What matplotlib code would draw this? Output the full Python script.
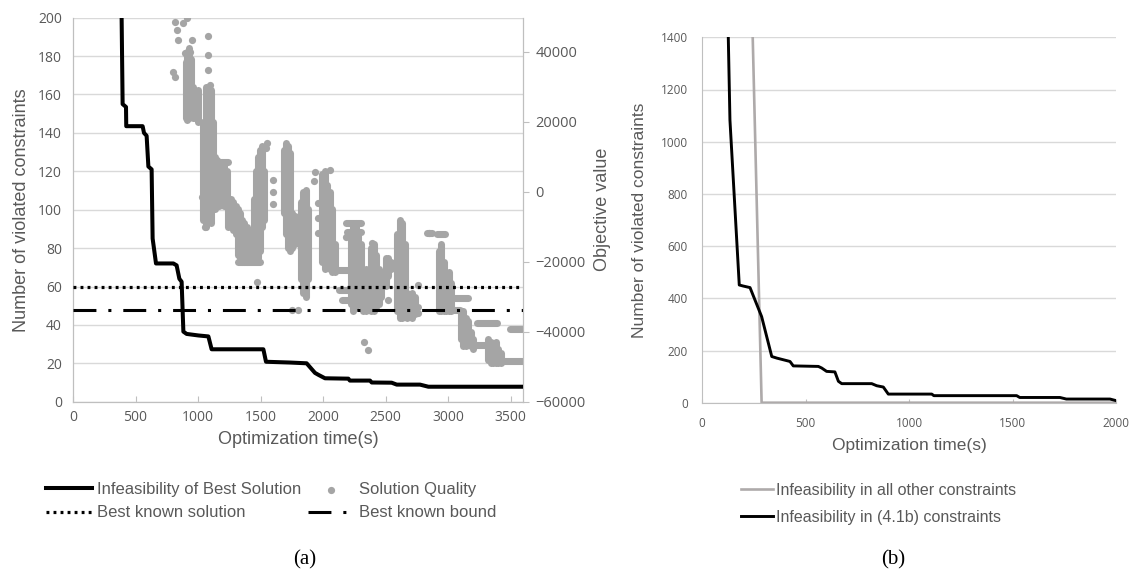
import matplotlib
matplotlib.use("Agg")
import matplotlib.pyplot as plt
from matplotlib.collections import LineCollection

# ============================================================
# data
# ============================================================
# (a) infeasibility of the best solution (left axis)
best_t = [389, 397, 424, 426, 557, 568, 589, 603, 629, 637, 664, 803, 829, 851, 869,
          883, 909, 1003, 1083, 1109, 1523, 1544, 1736, 1869, 1936, 1963, 2016, 2203,
          2215, 2376, 2390, 2549, 2590, 2776, 2843, 3600]
best_v = [200, 155, 153.5, 143.5, 143.5, 140, 138.5, 122.5, 121, 85, 72, 72, 71, 64, 62.5,
          36.5, 35.3, 34.5, 34, 27.3, 27.3, 20.8, 20.4, 20, 15, 14, 12.2, 12,
          11, 11, 10, 9.9, 8.9, 8.9, 7.8, 7.8]

# (a) objective value reference lines (right axis)
best_known_solution = -27100
best_known_bound = -33800

# (a) solution quality: isolated points
sq_t = [816, 909, 883, 829, 843, 949, 1083, 896, 936, 1083, 1083, 803, 816, 1096, 1029,
        1056, 1083, 1549, 1540, 1469, 1600, 1600, 1603, 1749, 1803, 1936, 1930, 1963, 1963,
        1963, 2056, 2187, 2395, 2523, 2330, 2360, 2763, 2763, 2850]
sq_v = [48600, 49500, 48100, 46200, 43300, 43300, 44500, 39500, 40000, 39000, 34800, 34300,
        32900, 30500, -1400, -10000, -6000, 14000, 12500, -25700, 3300, 0, -3500, -33800,
        -33800, 5700, 3000, -3200, -7500, -11900, 6200, -12900, -14700, -31000, -42900,
        -45200, -26700, -34700, -11700]

# (a) solution quality: dense runs of points (start time, end time, start value, end value)
run_t0 = [900, 915, 930, 945, 960, 975, 990, 1000, 1040, 1060, 1080, 1100, 1120, 1135, 1150,
          1170, 1190, 1210, 1228, 1240, 1260, 1280, 1300, 1320, 1335, 1350, 1370, 1390, 1410,
          1450, 1465, 1480, 1495, 1510, 1525, 1690, 1705, 1720, 1735, 1755, 1775, 1795, 1820,
          1840, 1860, 1880, 1995, 2015, 2035, 2055, 2075, 2095, 2220, 2240, 2260, 2280, 2300,
          2320, 2340, 2360, 2385, 2405, 2425, 2445, 2465, 2500, 2520, 2540, 2595, 2615, 2635,
          2655, 2675, 2695, 2715, 2735, 2925, 2945, 2965, 2985, 3005, 3025, 3100, 3120, 3140,
          3160, 3180, 3200, 3320, 3340, 3360, 3380, 3400, 3420,
          1123, 1323, 2120, 2180, 2190, 2130, 2150, 2620, 2830, 2910, 2976, 3056, 3202, 3229,
          3429, 3496]
run_t1 = [900, 915, 930, 945, 960, 975, 990, 1000, 1040, 1060, 1080, 1100, 1120, 1135, 1150,
          1170, 1190, 1210, 1228, 1240, 1260, 1280, 1300, 1320, 1335, 1350, 1370, 1390, 1410,
          1450, 1465, 1480, 1495, 1510, 1525, 1690, 1705, 1720, 1735, 1755, 1775, 1795, 1820,
          1840, 1860, 1880, 1995, 2015, 2035, 2055, 2075, 2095, 2220, 2240, 2260, 2280, 2300,
          2320, 2340, 2360, 2385, 2405, 2425, 2445, 2465, 2500, 2520, 2540, 2595, 2615, 2635,
          2655, 2675, 2695, 2715, 2735, 2925, 2945, 2965, 2985, 3005, 3025, 3100, 3120, 3140,
          3160, 3180, 3200, 3320, 3340, 3360, 3380, 3400, 3420,
          1240, 1496, 2230, 2300, 2300, 2390, 2390, 2760, 2870, 2976, 3096, 3162, 3309, 3389,
          3589, 3589]
run_v0 = [21000, 20500, 21000, 22000, 21000, 21000, 21000, 20000, -8000, -10000, -8000, -9000,
          -5000, -5000, -4000, -4000, -3000, -4000, -4000, -10000, -10000, -11000, -12000,
          -18000, -19000, -20000, -20000, -20000, -19000, -19000, -18000, -19000, -17000,
          -10000, -8000, -6000, -12000, -16000, -17000, -16000, -15000, -14000, -25000, -29000,
          -30000, -25000, -20000, -22000, -20000, -22000, -23000, -23000, -32000, -34000,
          -33000, -32000, -30000, -34000, -34000, -33000, -34000, -34000, -33000, -32000,
          -30000, -27000, -24000, -22000, -34000, -36000, -36000, -35000, -36000, -35000,
          -36000, -35000, -34000, -34000, -34000, -34000, -34000, -34000, -42000, -44000,
          -44000, -43000, -44000, -45000, -48000, -49000, -49000, -49000, -49000, -49000,
          8500, -20000, -22500, -9000, -11500, -28000, -31000, -33000, -11700, -12000, -33800,
          -30500, -43800, -37600, -48300, -39300]
run_v1 = [37000, 40000, 41000, 38000, 30000, 27000, 26000, 29000, 20000, 30000, 28000, 29000,
          20000, 10000, 9000, 8500, 8500, 8000, 6000, -3000, -2000, -3000, -4000, -5000,
          -6000, -8000, -9000, -10000, -12000, -2000, 6000, 10000, 12000, 13000, 6000, 12000,
          14000, 13000, 11000, -6000, -7000, -8000, -3000, 0, 500, -5000, 5000, 6000, 2000, 0,
          -5000, -15000, -12000, -10000, -9000, -12000, -15000, -25000, -22000, -24000,
          -16000, -15000, -18000, -22000, -25000, -19000, -19000, -20000, -12000, -8000,
          -9000, -15000, -29000, -30000, -29000, -30000, -17000, -15000, -20000, -26000,
          -23000, -26000, -34000, -34000, -36000, -37000, -40000, -42000, -42000, -43000,
          -44000, -43000, -45000, -46000,
          8500, -20000, -22500, -9000, -11500, -28000, -31000, -33000, -11700, -12000, -33800,
          -30500, -43800, -37600, -48300, -39300]

# (b) infeasibility split by constraint group
b_t_41b = [127, 135, 180, 199, 232, 288, 337, 361, 425, 441, 562, 578, 602, 642, 659, 675,
           820, 844, 876, 900, 1110, 1120, 1520, 1535, 1729, 1760, 1971, 2000]
b_v_41b = [1400, 1083, 451, 447, 441, 330, 177, 171, 158, 141, 139, 133, 120, 118, 82, 73,
           73, 65, 60, 33, 33, 27, 27, 20, 20, 14, 14, 8]
b_t_other = [245, 288, 2000]
b_v_other = [1400, 0, 0]

# ============================================================
TXT = "#595959"
GRID = "#D9D9D9"
SPINE = "#BFBFBF"
DOT = "#A5A5A5"
W, H = 1137, 579

plt.rcParams["font.family"] = ["Liberation Sans", "DejaVu Sans"]

fig = plt.figure(figsize=(W / 100, H / 100), dpi=100)


def box(l, t, r, b):
    return [l / W, 1 - b / H, (r - l) / W, (b - t) / H]


# ---------------- panel (a) ----------------
ax = fig.add_axes(box(73, 17.7, 523, 401.7))
ax2 = ax.twinx()

ax.set_xlim(0, 3600)
ax.set_ylim(0, 200)
ax.set_xticks(range(0, 3600, 500))
ax.set_yticks(range(0, 201, 20))
ax.grid(axis="y", color=GRID, lw=1.0)
ax.set_axisbelow(True)

segs = [[(a, c), (b, d)] for a, b, c, d in zip(run_t0, run_t1, run_v0, run_v1)]
ax2.add_collection(LineCollection(segs, colors=DOT, linewidths=5.1, capstyle="round", zorder=2))
h_q = ax2.scatter(sq_t, sq_v, s=27, color=DOT, lw=0, zorder=2)
h_sol, = ax2.plot([0, 3600], [best_known_solution] * 2, color="black", lw=2.3,
                  linestyle=(0, (0.9, 1.3)), zorder=3)
h_bnd, = ax2.plot([0, 3600], [best_known_bound] * 2, color="black", lw=2.2,
                  linestyle=(0, (7.5, 3.9, 1.0, 3.9)), zorder=3)
# left-axis series drawn on the top axes so the grid stays behind the dots
h_inf, = ax2.plot(best_t, best_v, color="black", lw=2.9, zorder=5,
                  transform=ax.transData)
ax2.set_ylim(-60000, 49700)
ax2.set_yticks(range(-60000, 40001, 20000))
ax2.set_xlim(0, 3600)

for a in (ax, ax2):
    for s in a.spines.values():
        s.set_color(SPINE)
    a.spines["top"].set_visible(False)
ax.tick_params(axis="y", length=0, labelsize=10, labelcolor=TXT, pad=8)
ax.tick_params(axis="x", direction="in", length=4, color=SPINE, labelsize=10,
               labelcolor=TXT, pad=6)
ax2.tick_params(axis="y", direction="out", length=4, color=SPINE, labelsize=10.5,
                labelcolor=TXT, pad=5)
for lab in ax.get_xticklabels() + ax.get_yticklabels() + ax2.get_yticklabels():
    lab.set_family(["Open Sans", "DejaVu Sans"])

ax.set_xlabel("Optimization time(s)", fontsize=13, color=TXT, labelpad=4)
ax.set_ylabel("Number of violated constraints", fontsize=13, color=TXT, labelpad=6)
ax2.set_ylabel("Objective value", fontsize=13, color=TXT, labelpad=6)

fig.legend([h_inf, h_sol, h_q, h_bnd],
           ["Infeasibility of Best Solution", "Best known solution",
            "Solution Quality", "Best known bound"],
           ncol=2, loc="upper left", bbox_to_anchor=(46 / W, 1 - 482 / H),
           frameon=False, fontsize=12, labelcolor=TXT, handlelength=2.75,
           handletextpad=0.3, columnspacing=0.4, labelspacing=0.5,
           borderpad=0, borderaxespad=0, scatterpoints=1)
fig.text(305 / W, 1 - 560 / H, "(a)", ha="center", va="center", fontsize=15,
         family=["Liberation Serif", "DejaVu Serif"])

# ---------------- panel (b) ----------------
bx = fig.add_axes(box(702, 37.3, 1116, 402.7))
h_other, = bx.plot(b_t_other, b_v_other, color="#AEAAAA", lw=1.9, zorder=3)
h_41b, = bx.plot(b_t_41b, b_v_41b, color="black", lw=2.1, zorder=4)
bx.set_xlim(0, 2000)
bx.set_ylim(0, 1400)
bx.set_xticks(range(0, 2001, 500))
bx.set_yticks(range(0, 1401, 200))
bx.grid(axis="y", color=GRID, lw=1.0)
bx.set_axisbelow(True)
for side in ("top", "right"):
    bx.spines[side].set_visible(False)
for side in ("left", "bottom"):
    bx.spines[side].set_color(SPINE)
bx.tick_params(axis="y", length=0, labelsize=8.5, labelcolor=TXT, pad=10)
bx.tick_params(axis="x", direction="in", length=3, color=SPINE, labelsize=8.5,
               labelcolor=TXT, pad=10)
for lab in bx.get_xticklabels() + bx.get_yticklabels():
    lab.set_family(["Open Sans", "DejaVu Sans"])
bx.set_xlabel("Optimization time(s)", fontsize=12.5, color=TXT, labelpad=6)
bx.set_ylabel("Number of violated constraints", fontsize=12.5, color=TXT, labelpad=10)

fig.legend([h_other, h_41b],
           ["Infeasibility in all other constraints", "Infeasibility in (4.1b) constraints"],
           loc="upper left", bbox_to_anchor=(741 / W, 1 - 483 / H),
           frameon=False, fontsize=11.5, labelcolor=TXT, handlelength=2.0,
           handletextpad=0.2, labelspacing=0.75, borderpad=0, borderaxespad=0)
fig.text(893 / W, 1 - 560 / H, "(b)", ha="center", va="center", fontsize=15,
         family=["Liberation Serif", "DejaVu Serif"])

fig.savefig("out.png", dpi=100)
